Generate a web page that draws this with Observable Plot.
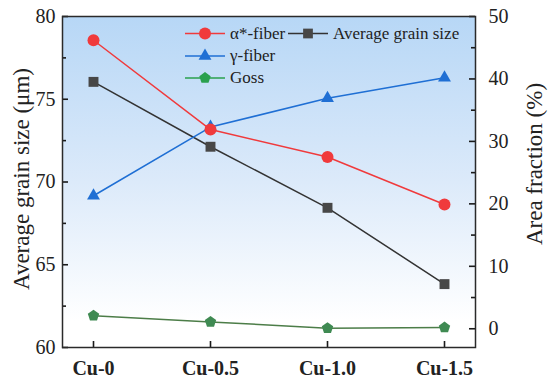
<!DOCTYPE html>
<html>
<head>
<meta charset="utf-8">
<script src="https://cdn.jsdelivr.net/npm/d3@7"></script>
<script src="https://cdn.jsdelivr.net/npm/@observablehq/plot@0.6"></script>
<style>
  html, body { margin: 0; padding: 0; background: #fff; }
  #chart { position: relative; width: 550px; height: 384px; }
</style>
</head>
<body>
<div id="chart"></div>
<script>
// ---- data ----
const categories = ["Cu-0", "Cu-0.5", "Cu-1.0", "Cu-1.5"];
const grainSize  = [76.05, 72.13, 68.44, 63.83];   // left axis (μm)
const alphaFiber = [46.2, 31.9, 27.5, 19.9];       // right axis (%)
const gammaFiber = [21.3, 32.3, 36.9, 40.2];       // right axis (%)
const goss       = [2.1, 1.1, 0.1, 0.2];           // right axis (%)

const leftMajor  = [60, 65, 70, 75, 80];
const leftMinor  = [62.5, 67.5, 72.5, 77.5];
const rightMajor = [0, 10, 20, 30, 40, 50];
const rightMinor = [5, 15, 25, 35, 45];
const rightDomain = [-3, 50];
const leftDomain = [60, 80];

const seriesNames = ["α*-fiber", "Average grain size", "γ-fiber", "Goss"];

// ---- helpers ----
const toLeft = r => leftDomain[0] + (r - rightDomain[0]) * (leftDomain[1] - leftDomain[0]) / (rightDomain[1] - rightDomain[0]);
const toRight = l => rightDomain[0] + (l - leftDomain[0]) * (rightDomain[1] - rightDomain[0]) / (leftDomain[1] - leftDomain[0]);

const pentagon = {
  draw(ctx, size) {
    const R = Math.sqrt(size / 2.3776);
    for (let i = 0; i < 5; i++) {
      const a = -Math.PI / 2 + i * 2 * Math.PI / 5;
      const x = R * Math.cos(a), y = R * Math.sin(a);
      if (i) ctx.lineTo(x, y); else ctx.moveTo(x, y);
    }
    ctx.closePath();
  }
};

const mk = (vals, conv) => categories.map((c, i) => ({cat: c, v: conv(vals[i])}));
const grainData = mk(grainSize, d => d);
const alphaData = mk(alphaFiber, toLeft);
const gammaData = mk(gammaFiber, toLeft);
const gossData  = mk(goss, toLeft);

const colors = {
  alpha: "#f03a3c", alphaFill: "#f03a3c",
  grain: "#333333", grainFill: "#474747",
  gamma: "#1f6fd4", gammaFill: "#1f6fd4",
  goss: "#4c7d48", gossFill: "#3f8a52", gossLegend: "#2aa04e"
};

const font = "Liberation Serif, Times New Roman, serif";
const W = 550, H = 384, ML = 62, MR = 75, MT = 16, MB = 37;
const FW = W - ML - MR, FH = H - MT - MB;
const tickStyle = { stroke: "#1a1a1a", strokeWidth: 1.6 };

const svg = Plot.plot({
  width: W,
  height: H,
  marginLeft: ML,
  marginRight: MR,
  marginTop: MT,
  marginBottom: MB,
  style: { fontFamily: font, fontSize: "20px", color: "#222", background: "transparent" },
  x: { type: "point", domain: categories, padding: 0.255 },
  y: { domain: leftDomain },
  marks: [
    Plot.frame({ fill: "url(#bgGrad)", stroke: null }),
    // left axis labels + inward ticks
    Plot.axisY(leftMajor, { anchor: "left", tickSize: 0, tickPadding: 7, fontSize: 20, label: null, tickFormat: d => String(d) }),
    Plot.tickY(leftMajor, { y: d => d, insetRight: FW - 6, ...tickStyle }),
    Plot.tickY(leftMinor, { y: d => d, insetRight: FW - 4, ...tickStyle }),
    // right axis labels + inward ticks
    Plot.axisY(rightMajor.map(toLeft), { anchor: "right", tickSize: 0, tickPadding: 13, fontSize: 20, label: null,
      tickFormat: d => String(Math.round(toRight(d))) }),
    Plot.tickY(rightMajor.map(toLeft), { y: d => d, insetLeft: FW - 6, ...tickStyle }),
    Plot.tickY(rightMinor.map(toLeft), { y: d => d, insetLeft: FW - 4, ...tickStyle }),
    // x axis labels + inward ticks
    Plot.axisX({ tickSize: 0, tickPadding: 13, fontSize: 20, fontWeight: "bold", label: null }),
    Plot.tickX(categories, { x: d => d, insetTop: FH - 6, ...tickStyle }),
    // axis titles
    Plot.text(["Average grain size (μm)"], { frameAnchor: "left", textAnchor: "middle", dx: -41, dy: -3, rotate: -90, fontSize: 23, text: d => d }),
    Plot.text(["Area fraction (%)"], { frameAnchor: "right", textAnchor: "middle", dx: 59, dy: -18, rotate: -90, fontSize: 23, text: d => d }),
    // series
    Plot.line(grainData, { x: "cat", y: "v", stroke: colors.grain, strokeWidth: 1.5 }),
    Plot.dot(grainData, { x: "cat", y: "v", symbol: "square", r: 5.6, fill: colors.grainFill, stroke: "none" }),
    Plot.line(gammaData, { x: "cat", y: "v", stroke: colors.gamma, strokeWidth: 1.5 }),
    Plot.dot(gammaData, { x: "cat", y: "v", symbol: "triangle", r: 4.8, fill: colors.gammaFill, stroke: "none" }),
    Plot.line(alphaData, { x: "cat", y: "v", stroke: colors.alpha, strokeWidth: 1.5 }),
    Plot.dot(alphaData, { x: "cat", y: "v", r: 6, fill: colors.alphaFill, stroke: "none" }),
    Plot.line(gossData, { x: "cat", y: "v", stroke: colors.goss, strokeWidth: 1.5 }),
    Plot.dot(gossData, { x: "cat", y: "v", symbol: pentagon, r: 5.2, fill: colors.gossFill, stroke: "none" }),
    Plot.frame({ stroke: "#2a2a2a", strokeWidth: 1.5 })
  ]
});

// gradient background definition
const s = d3.select(svg);
const defs = s.insert("defs", ":first-child");
const grad = defs.append("linearGradient").attr("id", "bgGrad").attr("x1", 0).attr("y1", 0).attr("x2", 0).attr("y2", 1);
grad.append("stop").attr("offset", "0%").attr("stop-color", "#b7d7f6");
grad.append("stop").attr("offset", "50%").attr("stop-color", "#dceafa");
grad.append("stop").attr("offset", "92%").attr("stop-color", "#ffffff");
grad.append("stop").attr("offset", "100%").attr("stop-color", "#ffffff");

// legend (inside plot, top right)
const legendItems = [
  { name: seriesNames[0], color: colors.alpha, fill: colors.alphaFill, sym: d3.symbolCircle, size: Math.PI * 36, col: 0, row: 0 },
  { name: seriesNames[1], color: colors.grain, fill: colors.grainFill, sym: d3.symbolSquare, size: 95, col: 1, row: 0 },
  { name: seriesNames[2], color: colors.gamma, fill: colors.gammaFill, sym: d3.symbolTriangle, size: 72, col: 0, row: 1 },
  { name: seriesNames[3], color: colors.gossLegend, fill: colors.gossLegend, sym: pentagon, size: 85, col: 0, row: 2 }
];
const colX = [185, 288];
const rowY = [33.5, 56, 78];
const lg = s.append("g").attr("font-family", font).attr("font-size", 17).attr("fill", "#222").attr("text-anchor", "start");
legendItems.forEach(it => {
  const x0 = colX[it.col], y0 = rowY[it.row];
  const g = lg.append("g").attr("transform", `translate(${x0},${y0})`);
  g.append("line").attr("x1", 0).attr("x2", 40).attr("y1", 0).attr("y2", 0).attr("stroke", it.color).attr("stroke-width", 1.5);
  g.append("path").attr("d", d3.symbol(it.sym, it.size)()).attr("transform", "translate(20,0)").attr("fill", it.fill);
  g.append("text").attr("x", 45).attr("y", 0).attr("dy", "0.32em").attr("text-anchor", "start").text(it.name);
});

document.getElementById("chart").appendChild(svg);
</script>
</body>
</html>
